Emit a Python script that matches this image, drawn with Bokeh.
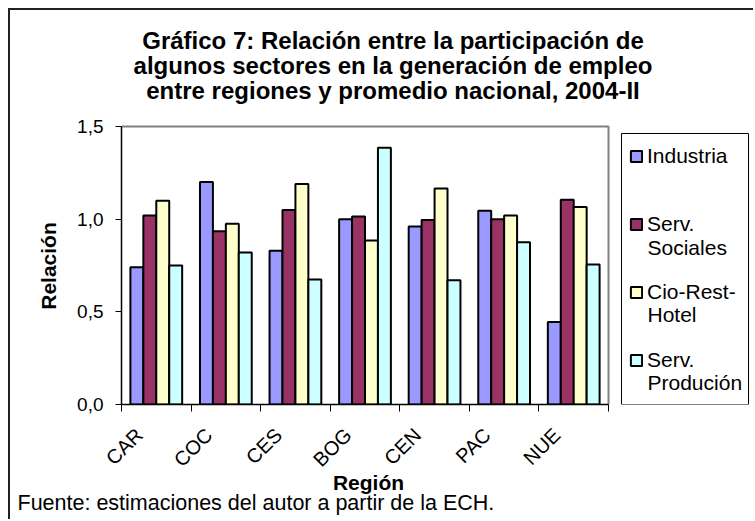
import math
from bokeh.plotting import figure
from bokeh.models import (ColumnDataSource, FixedTicker, Legend, LegendItem, Title, Label,
                          BoxAnnotation, CustomJSTickFormatter)
from bokeh.transform import dodge
from bokeh.embed import file_html
from bokeh.resources import INLINE

# ---------------- data ----------------
regions = ["CAR", "COC", "CES", "BOG", "CEN", "PAC", "NUE"]
industria = [0.74, 1.20, 0.83, 1.00, 0.96, 1.045, 0.445]
serv_sociales = [1.02, 0.935, 1.05, 1.015, 0.995, 1.00, 1.105]
cio_rest_hotel = [1.10, 0.975, 1.19, 0.885, 1.165, 1.02, 1.065]
serv_producion = [0.75, 0.82, 0.675, 1.385, 0.67, 0.875, 0.755]
legend_first_lines = ["Industria", "Serv.", "Cio-Rest-", "Serv."]
legend_second_lines = ["", "Sociales", "Hotel", "Produción"]
colors = ["#9999FF", "#993366", "#FFFFCC", "#CCFFFF"]
y_ticks = [0.0, 0.5, 1.0, 1.5]
y_tick_labels = ["0,0", "0,5", "1,0", "1,5"]
title_lines = ["Gráfico 7: Relación entre la participación de",
               "algunos sectores en la generación de empleo",
               "entre regiones y promedio nacional, 2004-II"]
x_title = "Región"
y_title = "Relación"
source_note = "Fuente: estimaciones del autor a partir de la ECH."

FONT = "Liberation Sans"
# ---------------- layout (window pixels) ----------------
MARGIN, BORDER = 8, 2
W, H = 745, 511                 # canvas size
CANVAS_L = CANVAS_T = MARGIN + BORDER
CANVAS_R = CANVAS_L + W
PX_L, PX_R = 121, 608           # plot area left/right (window px)
PX_T, PX_B = 126, 404           # plot area top/bottom (window px)
NX = len(regions)
YMAX = y_ticks[-1]
ux = NX / (PX_R - PX_L)         # data units per px
uy = YMAX / (PX_B - PX_T)
XT_LEFT = 368 - 71.2 / 2        # left edge of "Región" (window px)
YT_BOTTOM = 265.5 + 87.5 / 2    # lower end of rotated "Relación" (window px)


def dx(xw):
    return (xw - PX_L) * ux


def dy(yw):
    return (PX_B - yw) * uy


p = figure(width=W, height=H,
           x_range=(0, dx(CANVAS_R)), y_range=(0, dy(CANVAS_T)),
           output_backend="svg", toolbar_location=None, title=None,
           min_border_left=PX_L - CANVAS_L, min_border_right=0, min_border_top=0,
           min_border_bottom=CANVAS_T + H - PX_B)
p.styles = {"margin-left": f"{MARGIN}px", "margin-top": f"{MARGIN}px",
            "border-top": f"{BORDER}px solid #222222",
            "border-left": f"{BORDER}px solid #222222"}
p.background_fill_color = "white"
p.border_fill_color = "white"
p.outline_line_color = None
p.grid.visible = False

src = ColumnDataSource(dict(
    x=[i + 0.5 for i in range(NX)],
    region=regions,
    industria=industria, serv_sociales=serv_sociales,
    cio_rest_hotel=cio_rest_hotel, serv_producion=serv_producion,
))
cols = ["industria", "serv_sociales", "cio_rest_hotel", "serv_producion"]
bw = 0.186
renderers = []
for k, (c, col) in enumerate(zip(cols, colors)):
    r = p.vbar(x=dodge("x", (k - 1.5) * bw, range=p.x_range), top=c, width=bw,
               bottom=0, source=src, fill_color=col, line_color="black", line_width=2)
    renderers.append(r)

# plot-area border (top and right, grey)
p.line(x=[0, NX, NX], y=[YMAX, YMAX, 0], line_color="#808080", line_width=2)

# x axis: boundary ticks as minor ticks, labels near centers
xa = p.xaxis[0]
xa.bounds = (0, NX)
xa.ticker = FixedTicker(ticks=[i + 0.255 for i in range(NX)],
                        minor_ticks=list(range(NX + 1)))
xa.formatter = CustomJSTickFormatter(args=dict(names=regions),
                                     code="return names[Math.floor(tick)];")
xa.major_tick_line_color = None
xa.major_tick_out = 0
xa.major_tick_in = 0
xa.minor_tick_out = 7
xa.minor_tick_in = 0
xa.minor_tick_line_color = "black"
xa.minor_tick_line_width = 1
xa.axis_line_color = "black"
xa.axis_line_width = 1.5
xa.major_label_orientation = math.pi / 4
xa.major_label_text_font = FONT
xa.major_label_text_font_size = "20px"
xa.major_label_text_color = "black"
xa.major_label_standoff = 20

ya = p.yaxis[0]
ya.bounds = (0, YMAX)
ya.ticker = FixedTicker(ticks=y_ticks, minor_ticks=[])
ya.formatter = CustomJSTickFormatter(args=dict(yvals=y_ticks, ylabels=y_tick_labels),
                                     code="return ylabels[yvals.indexOf(tick)];")
ya.major_tick_out = 6
ya.major_tick_in = 0
ya.major_tick_line_color = "black"
ya.minor_tick_line_color = None
ya.axis_line_color = "black"
ya.axis_line_width = 1.5
ya.major_label_text_font = FONT
ya.major_label_text_font_size = "19px"
ya.major_label_text_color = "black"
ya.major_label_standoff = 12

# axis titles, placed over the plot area (not the whole frame)
p.add_layout(Title(text=y_title, align="left", offset=PX_B - YT_BOTTOM, standoff=30,
                   text_font=FONT, text_font_size="21px", text_font_style="bold",
                   text_color="black"), "left")
p.add_layout(Title(text=x_title, align="left", vertical_align="top",
                   offset=XT_LEFT - PX_L, standoff=-22,
                   text_font=FONT, text_font_size="21px", text_font_style="bold",
                   text_color="black"), "below")
# source note below
p.add_layout(Title(text=source_note, align="left", offset=17 - PX_L, standoff=8,
                   text_font=FONT, text_font_size="21.5px", text_font_style="normal",
                   text_color="black"), "below")

# legend box, legend (first lines) and second lines
p.add_layout(BoxAnnotation(left=dx(621), right=dx(748), top=dy(133), bottom=dy(PX_B),
                           fill_color="white", fill_alpha=1, line_color="black",
                           line_width=1, line_alpha=1, level="underlay"))
items = [LegendItem(label=t, renderers=[r]) for t, r in zip(legend_first_lines, renderers)]
legend = Legend(items=items, location=(629 - PX_L, PX_B - 372), orientation="vertical",
                border_line_color=None, background_fill_alpha=0, padding=0, margin=0,
                spacing=44, glyph_width=14, glyph_height=14, label_height=24,
                label_standoff=4, label_text_font=FONT, label_text_font_size="21px",
                label_text_color="black")
p.add_layout(legend)

for t, cy in zip(legend_second_lines, [None, 246.7, 314, 381.7]):
    if t:
        p.add_layout(Label(x=dx(647), y=dy(cy), text=t, text_font=FONT,
                           text_font_size="21px", text_baseline="middle",
                           text_align="left", text_color="black"))

# title lines
for t, cy in zip(title_lines, [40, 65, 90]):
    p.add_layout(Label(x=dx(392.5), y=dy(cy), text=t, text_font=FONT,
                       text_font_size="24px", text_font_style="bold",
                       text_align="center", text_baseline="middle", text_color="black"))

open("out.html", "w").write(file_html(p, INLINE))
